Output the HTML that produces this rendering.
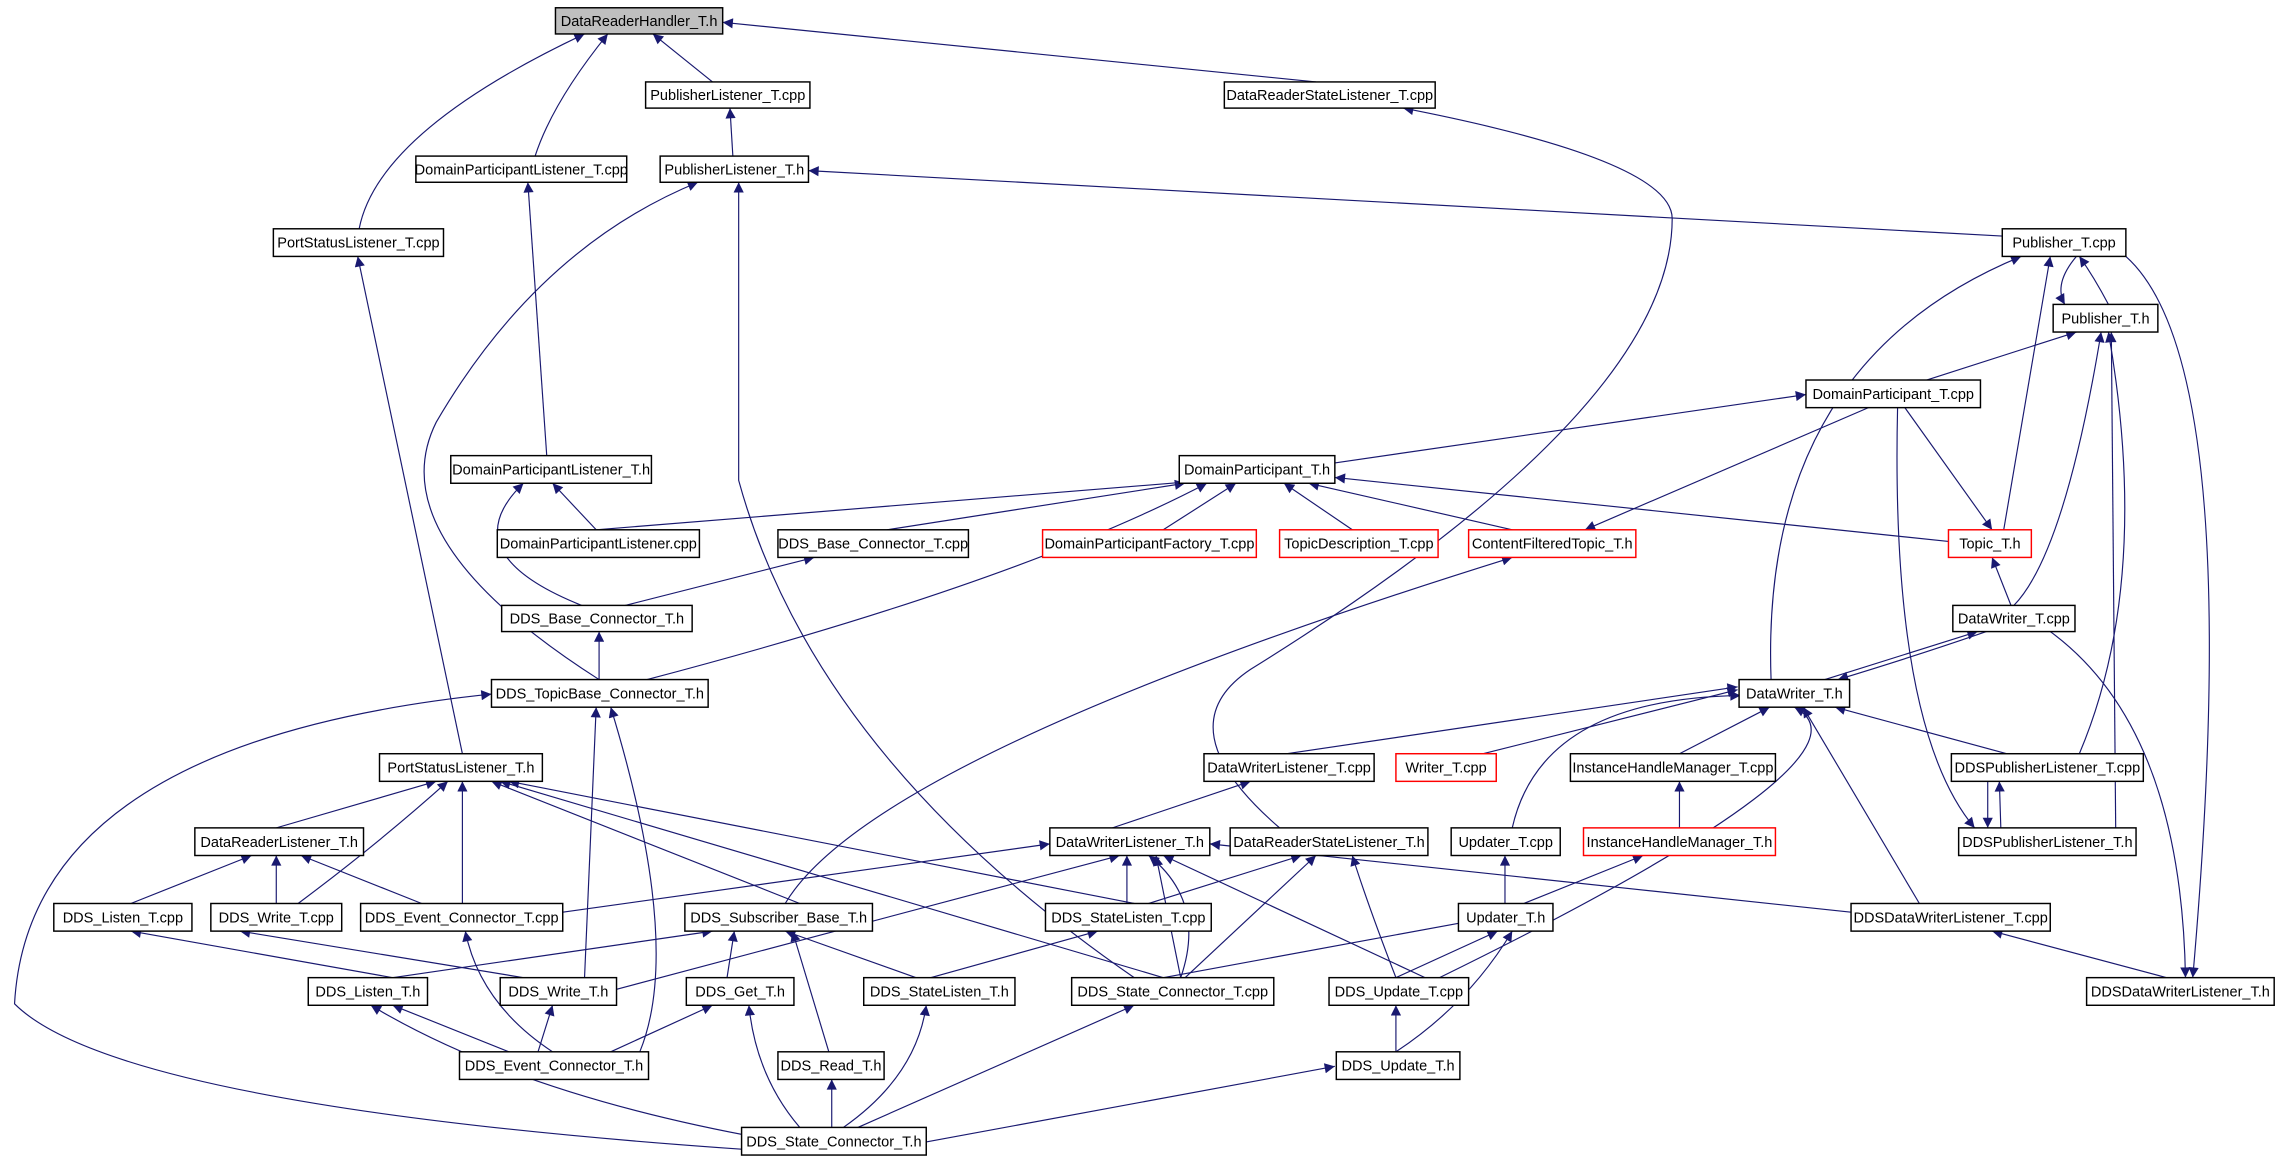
<!DOCTYPE html>
<html><head><meta charset="utf-8"><style>
html,body{margin:0;padding:0;background:#fff;}
svg{display:block;}
text{font-family:"Liberation Sans Narrow","Liberation Sans",sans-serif;font-size:10px;fill:#000;}
</style></head><body>
<svg width="2280" height="1157" viewBox="0 0 1568 795" xmlns="http://www.w3.org/2000/svg">
<defs>
<marker id="a" viewBox="0 0 10 10" refX="10" refY="5" markerWidth="9" markerHeight="7" markerUnits="userSpaceOnUse" orient="auto">
<path d="M0,0 L10,5 L0,10 z" fill="#191970"/>
</marker>
</defs>
<g fill="none" stroke="#191970" stroke-width="0.8" marker-end="url(#a)">
<path d="M247,157 Q260,90 402,23"/>
<path d="M368,107 Q380,70 418,23"/>
<path d="M490,56 L449,23"/>
<path d="M905,56 L497,15"/>
<path d="M504,107 L502,74"/>
<path d="M376,313 L363,125"/>
<path d="M318,518 L246,176"/>
<path d="M1377,162 L556,117"/>
<path d="M412,467 Q260,370 300,290 Q370,170 480,125"/>
<path d="M780,672 Q560,520 508,330 L508,125"/>
<path d="M880,569 Q800,500 860,460 Q1150,280 1150,150 Q1150,110 965,74"/>
<path d="M1450,209 Q1440,190 1430,176"/>
<path d="M1428,176 Q1412,195 1420,209"/>
<path d="M1218,467 Q1210,250 1390,176"/>
<path d="M1378,364 L1410,176"/>
<path d="M1462,176 Q1545,250 1508,672"/>
<path d="M1325,261 L1428,228"/>
<path d="M918,318 L1242,271"/>
<path d="M1285,280 L1090,364"/>
<path d="M1310,280 L1370,364"/>
<path d="M1305,280 Q1300,500 1358,569"/>
<path d="M1340,372 L918,328"/>
<path d="M1383,416 L1370,383"/>
<path d="M1430,518 Q1480,400 1450,228"/>
<path d="M1385,416 Q1420,380 1445,228"/>
<path d="M1455,569 L1452,228"/>
<path d="M410,364 L830,330"/>
<path d="M610,364 L815,332"/>
<path d="M800,364 L850,332"/>
<path d="M930,364 L883,332"/>
<path d="M1040,364 L900,332"/>
<path d="M445,467 Q700,400 830,332"/>
<path d="M410,364 L380,332"/>
<path d="M400,416 Q310,380 360,332"/>
<path d="M430,416 L560,383"/>
<path d="M412,467 L412,434"/>
<path d="M540,621 Q600,520 1040,383"/>
<path d="M1255,467 L1360,434"/>
<path d="M1366,434 Q1320,450 1264,467"/>
<path d="M885,518 L1195,472"/>
<path d="M1020,518 L1195,474"/>
<path d="M1040,569 Q1060,480 1197,478"/>
<path d="M1155,518 L1217,486"/>
<path d="M1380,518 L1262,486"/>
<path d="M1320,621 L1240,486"/>
<path d="M990,672 Q1300,520 1234,486"/>
<path d="M1410,434 Q1500,500 1503,672"/>
<path d="M1376,569 L1375,537"/>
<path d="M1367,537 L1367,569"/>
<path d="M510,790 Q80,760 10,690 Q20,510 338,477"/>
<path d="M402,672 L410,486"/>
<path d="M440,723 Q470,650 420,486"/>
<path d="M190,569 L300,537"/>
<path d="M205,621 Q260,580 308,537"/>
<path d="M318,621 L318,537"/>
<path d="M550,621 L338,537"/>
<path d="M780,621 L350,537"/>
<path d="M800,672 L344,537"/>
<path d="M765,569 L860,537"/>
<path d="M90,621 L173,588"/>
<path d="M190,621 L190,588"/>
<path d="M290,621 L207,588"/>
<path d="M387,627 L722,580"/>
<path d="M424,680 L770,588"/>
<path d="M775,621 L775,588"/>
<path d="M812,672 Q830,620 790,588"/>
<path d="M812,672 L795,588"/>
<path d="M980,672 L800,588"/>
<path d="M1273,627 L832,580"/>
<path d="M790,621 L895,588"/>
<path d="M815,672 L905,588"/>
<path d="M960,672 Q940,620 930,588"/>
<path d="M1035,621 L1035,588"/>
<path d="M1155,569 L1155,537"/>
<path d="M1048,621 L1130,588"/>
<path d="M800,672 L1012,633"/>
<path d="M960,672 L1030,640"/>
<path d="M960,723 Q1010,690 1040,640"/>
<path d="M1490,672 L1370,640"/>
<path d="M270,672 L90,640"/>
<path d="M270,672 L490,640"/>
<path d="M360,672 L165,640"/>
<path d="M500,672 L505,640"/>
<path d="M570,723 L545,640"/>
<path d="M630,672 L540,640"/>
<path d="M640,672 L755,640"/>
<path d="M380,723 Q330,690 320,640"/>
<path d="M350,723 L270,691"/>
<path d="M570,790 Q370,760 255,691"/>
<path d="M370,723 L380,691"/>
<path d="M420,723 L490,691"/>
<path d="M550,775 Q520,740 515,691"/>
<path d="M572,775 L572,742"/>
<path d="M580,775 Q630,740 637,691"/>
<path d="M590,775 L780,691"/>
<path d="M637,785 L918,733"/>
<path d="M960,723 L960,691"/>
</g>
<g stroke-width="1">
<rect x="382" y="5" width="115" height="18" fill="#bfbfbf" stroke="#000"/>
<g fill="#fff" stroke="#000">
<rect x="444" y="56" width="113" height="18"/>
<rect x="842" y="56" width="145" height="18"/>
<rect x="286" y="107" width="145" height="18"/>
<rect x="454" y="107" width="102" height="18"/>
<rect x="188" y="157" width="117" height="19"/>
<rect x="1377" y="157" width="85" height="19"/>
<rect x="1412" y="209" width="72" height="19"/>
<rect x="1242" y="261" width="120" height="19"/>
<rect x="310" y="313" width="138" height="19"/>
<rect x="811" y="313" width="107" height="19"/>
<rect x="342" y="364" width="139" height="19"/>
<rect x="535" y="364" width="131" height="19"/>
<rect x="345" y="416" width="131" height="18"/>
<rect x="1343" y="416" width="84" height="18"/>
<rect x="338" y="467" width="149" height="19"/>
<rect x="1196" y="467" width="76" height="19"/>
<rect x="261" y="518" width="112" height="19"/>
<rect x="828" y="518" width="117" height="19"/>
<rect x="1080" y="518" width="141" height="19"/>
<rect x="1342" y="518" width="132" height="19"/>
<rect x="134" y="569" width="116" height="19"/>
<rect x="722" y="569" width="110" height="19"/>
<rect x="846" y="569" width="136" height="19"/>
<rect x="998" y="569" width="75" height="19"/>
<rect x="1347" y="569" width="122" height="19"/>
<rect x="37" y="621" width="95" height="19"/>
<rect x="145" y="621" width="90" height="19"/>
<rect x="248" y="621" width="139" height="19"/>
<rect x="471" y="621" width="129" height="19"/>
<rect x="719" y="621" width="114" height="19"/>
<rect x="1003" y="621" width="65" height="19"/>
<rect x="1273" y="621" width="137" height="19"/>
<rect x="212" y="672" width="82" height="19"/>
<rect x="344" y="672" width="80" height="19"/>
<rect x="472" y="672" width="74" height="19"/>
<rect x="594" y="672" width="104" height="19"/>
<rect x="737" y="672" width="139" height="19"/>
<rect x="914" y="672" width="96" height="19"/>
<rect x="1435" y="672" width="129" height="19"/>
<rect x="316" y="723" width="130" height="19"/>
<rect x="535" y="723" width="73" height="19"/>
<rect x="919" y="723" width="85" height="19"/>
<rect x="510" y="775" width="127" height="19"/>
</g>
<g fill="#fff" stroke="#f00">
<rect x="717" y="364" width="147" height="19"/>
<rect x="880" y="364" width="109" height="19"/>
<rect x="1010" y="364" width="115" height="19"/>
<rect x="1340" y="364" width="57" height="19"/>
<rect x="960" y="518" width="69" height="19"/>
<rect x="1089" y="569" width="132" height="19"/>
</g>
</g>
<g text-anchor="middle">
<text x="439.5" y="17.5">DataReaderHandler_T.h</text>
<text x="500.5" y="68.5">PublisherListener_T.cpp</text>
<text x="914.5" y="68.5">DataReaderStateListener_T.cpp</text>
<text x="358.5" y="119.5">DomainParticipantListener_T.cpp</text>
<text x="505" y="119.5">PublisherListener_T.h</text>
<text x="246.5" y="170">PortStatusListener_T.cpp</text>
<text x="1419.5" y="170">Publisher_T.cpp</text>
<text x="1448" y="222">Publisher_T.h</text>
<text x="1302" y="274">DomainParticipant_T.cpp</text>
<text x="379" y="326">DomainParticipantListener_T.h</text>
<text x="864.5" y="326">DomainParticipant_T.h</text>
<text x="411.5" y="377">DomainParticipantListener.cpp</text>
<text x="600.5" y="377">DDS_Base_Connector_T.cpp</text>
<text x="790.5" y="377">DomainParticipantFactory_T.cpp</text>
<text x="934.5" y="377">TopicDescription_T.cpp</text>
<text x="1067.5" y="377">ContentFilteredTopic_T.h</text>
<text x="1368.5" y="377">Topic_T.h</text>
<text x="410.5" y="428.5">DDS_Base_Connector_T.h</text>
<text x="1385" y="428.5">DataWriter_T.cpp</text>
<text x="412.5" y="480">DDS_TopicBase_Connector_T.h</text>
<text x="1234" y="480">DataWriter_T.h</text>
<text x="317" y="531">PortStatusListener_T.h</text>
<text x="886.5" y="531">DataWriterListener_T.cpp</text>
<text x="994.5" y="531">Writer_T.cpp</text>
<text x="1150.5" y="531">InstanceHandleManager_T.cpp</text>
<text x="1408" y="531">DDSPublisherListener_T.cpp</text>
<text x="192" y="582">DataReaderListener_T.h</text>
<text x="777" y="582">DataWriterListener_T.h</text>
<text x="914" y="582">DataReaderStateListener_T.h</text>
<text x="1035.5" y="582">Updater_T.cpp</text>
<text x="1155" y="582">InstanceHandleManager_T.h</text>
<text x="1408" y="582">DDSPublisherListener_T.h</text>
<text x="84.5" y="634">DDS_Listen_T.cpp</text>
<text x="190" y="634">DDS_Write_T.cpp</text>
<text x="317.5" y="634">DDS_Event_Connector_T.cpp</text>
<text x="535.5" y="634">DDS_Subscriber_Base_T.h</text>
<text x="776" y="634">DDS_StateListen_T.cpp</text>
<text x="1035.5" y="634">Updater_T.h</text>
<text x="1341.5" y="634">DDSDataWriterListener_T.cpp</text>
<text x="253" y="685">DDS_Listen_T.h</text>
<text x="384" y="685">DDS_Write_T.h</text>
<text x="509" y="685">DDS_Get_T.h</text>
<text x="646" y="685">DDS_StateListen_T.h</text>
<text x="806.5" y="685">DDS_State_Connector_T.cpp</text>
<text x="962" y="685">DDS_Update_T.cpp</text>
<text x="1499.5" y="685">DDSDataWriterListener_T.h</text>
<text x="381" y="736">DDS_Event_Connector_T.h</text>
<text x="571.5" y="736">DDS_Read_T.h</text>
<text x="961.5" y="736">DDS_Update_T.h</text>
<text x="573.5" y="788">DDS_State_Connector_T.h</text>
</g>
</svg>
</body></html>
